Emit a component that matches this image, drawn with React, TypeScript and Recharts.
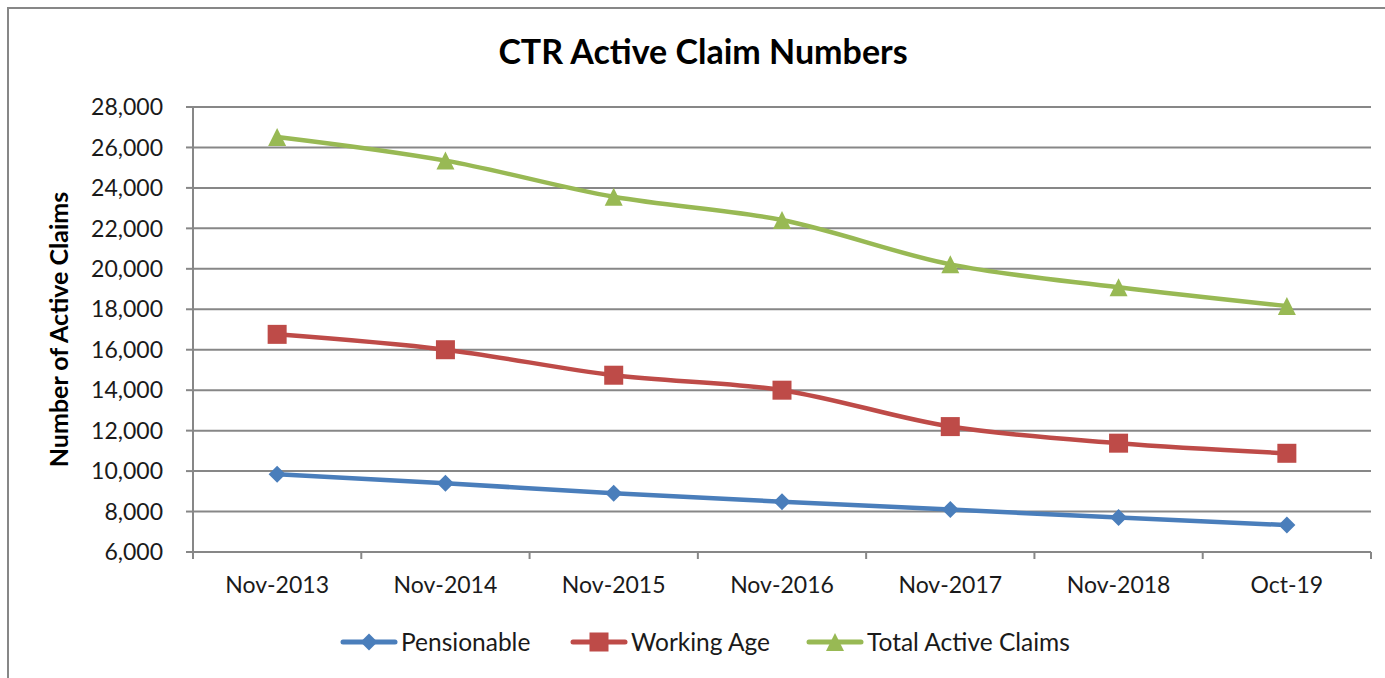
import React from 'react';
import { LineChart, Line, XAxis, YAxis, CartesianGrid } from 'recharts';

const months = ['Nov-2013', 'Nov-2014', 'Nov-2015', 'Nov-2016', 'Nov-2017', 'Nov-2018', 'Oct-19'];
const pensionable = [9840, 9400, 8900, 8490, 8100, 7700, 7330];
const workingAge = [16760, 16000, 14740, 14000, 12200, 11380, 10880];
const totalClaims = [26520, 25350, 23560, 22410, 20220, 19090, 18160];
const yTicks = [6000, 8000, 10000, 12000, 14000, 16000, 18000, 20000, 22000, 24000, 26000, 28000];

const chartData = months.map((month, i) => ({
  month,
  pensionable: pensionable[i],
  workingAge: workingAge[i],
  total: totalClaims[i],
}));

const FONT = 'Lato, "Open Sans", sans-serif';
const GRID = '#878787';
const BLUE = '#4A7EBB';
const RED = '#BE4B48';
const GREEN = '#98B954';

// plot box
const PLOT_LEFT = 193;
const PLOT_RIGHT = 1371;
const BAND = (PLOT_RIGHT - PLOT_LEFT) / months.length;

const Diamond = ({ cx, cy, fill, r = 8.5 }: any) =>
  cx == null ? null : (
    <path d={`M${cx},${cy - r} L${cx + r},${cy} L${cx},${cy + r} L${cx - r},${cy} Z`} fill={fill} />
  );

const Square = ({ cx, cy, fill, r = 9.5 }: any) =>
  cx == null ? null : <rect x={cx - r} y={cy - r} width={r * 2} height={r * 2} fill={fill} />;

const Triangle = ({ cx, cy, fill, r = 9 }: any) =>
  cx == null ? null : (
    <path d={`M${cx},${cy - r} L${cx + r},${cy + r} L${cx - r},${cy + r} Z`} fill={fill} />
  );

// x tick: label plus tick marks on the band edges
const MonthTick = (props: any) => {
  const { x, y, payload, index } = props;
  const half = BAND / 2;
  return (
    <g>
      <line x1={x - half} x2={x - half} y1={y} y2={y + 7} stroke={GRID} strokeWidth={2} />
      {index === months.length - 1 && (
        <line x1={x + half} x2={x + half} y1={y} y2={y + 7} stroke={GRID} strokeWidth={2} />
      )}
      <text x={x} y={y + 41} textAnchor="middle" fontFamily={FONT} fontSize={23} fill="#1a1a1a">
        {payload.value}
      </text>
    </g>
  );
};

const LegendItem = ({ color, label, Marker, left }: any) => (
  <div style={{ position: 'absolute', left, top: 0, display: 'flex', alignItems: 'center', whiteSpace: 'nowrap' }}>
    <svg width={58} height={24} style={{ marginRight: 3 }}>
      <line x1={3} x2={55} y1={12} y2={12} stroke={color} strokeWidth={5} strokeLinecap="round" />
      <Marker cx={29} cy={12} fill={color} />
    </svg>
    <span>{label}</span>
  </div>
);

export default function App() {
  return (
    <div
      style={{
        position: 'absolute',
        left: 0,
        top: 0,
        width: 1385,
        height: 678,
        background: '#fff',
        overflow: 'hidden',
        fontFamily: FONT,
      }}
    >
      <div
        style={{
          position: 'absolute',
          left: 7,
          top: 7,
          width: 1400,
          height: 700,
          borderLeft: `2.5px solid ${GRID}`,
          borderTop: `2.5px solid ${GRID}`,
        }}
      />
      <div
        style={{
          position: 'absolute',
          left: 0,
          width: 1406,
          top: 30,
          textAlign: 'center',
          fontSize: 34,
          fontWeight: 700,
          color: '#000',
        }}
      >
        CTR Active Claim Numbers
      </div>

      <div style={{ position: 'absolute', left: 0, top: 0 }}>
        <LineChart
          width={1385}
          height={678}
          data={chartData}
          margin={{ top: 107, right: 1385 - PLOT_RIGHT, left: 0, bottom: 66 }}
        >
          <CartesianGrid vertical={false} stroke={GRID} strokeWidth={2} />
          <XAxis
            dataKey="month"
            scale="band"
            height={60}
            axisLine={{ stroke: GRID, strokeWidth: 2 }}
            tickLine={false}
            tickSize={0}
            tickMargin={0}
            interval={0}
            tick={<MonthTick />}
          />
          <YAxis
            width={PLOT_LEFT}
            domain={[6000, 28000]}
            ticks={yTicks}
            interval={0}
            allowDataOverflow
            axisLine={{ stroke: GRID, strokeWidth: 2 }}
            tickLine={{ stroke: GRID, strokeWidth: 2 }}
            tickSize={7}
            tickMargin={23}
            tick={{ fontFamily: FONT, fontSize: 23, fill: '#1a1a1a' }}
            tickFormatter={(v: number) => v.toLocaleString('en-US')}
            label={{
              value: 'Number of Active Claims',
              angle: -90,
              position: 'insideLeft',
              offset: 59,
              style: { fontFamily: FONT, fontSize: 25, fontWeight: 700, fill: '#000', textAnchor: 'middle' },
            }}
          />
          <Line
            type="monotone"
            dataKey="pensionable"
            stroke={BLUE}
            strokeWidth={4.5}
            dot={(p: any) => <Diamond key={`d-${p.index}`} cx={p.cx} cy={p.cy} fill={BLUE} />}
            activeDot={false}
            isAnimationActive={false}
          />
          <Line
            type="monotone"
            dataKey="workingAge"
            stroke={RED}
            strokeWidth={4.5}
            dot={(p: any) => <Square key={`s-${p.index}`} cx={p.cx} cy={p.cy} fill={RED} />}
            activeDot={false}
            isAnimationActive={false}
          />
          <Line
            type="monotone"
            dataKey="total"
            stroke={GREEN}
            strokeWidth={4.5}
            dot={(p: any) => <Triangle key={`t-${p.index}`} cx={p.cx} cy={p.cy} fill={GREEN} />}
            activeDot={false}
            isAnimationActive={false}
          />
        </LineChart>
      </div>

      <div style={{ position: 'absolute', left: 0, top: 627, fontSize: 24.5, color: '#1a1a1a' }}>
        <LegendItem color={BLUE} label="Pensionable" Marker={Diamond} left={340} />
        <LegendItem color={RED} label="Working Age" Marker={Square} left={570} />
        <LegendItem color={GREEN} label="Total Active Claims" Marker={Triangle} left={806} />
      </div>
    </div>
  );
}
